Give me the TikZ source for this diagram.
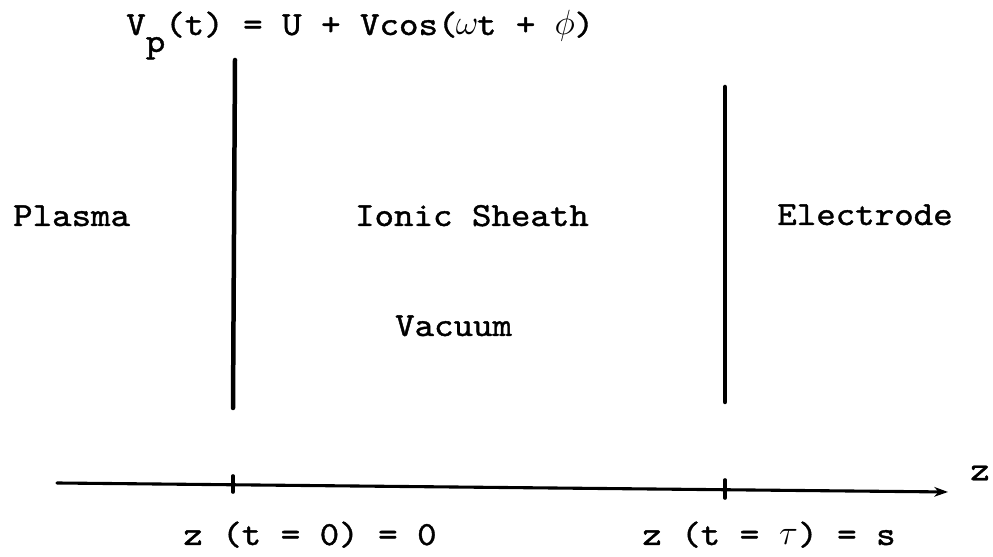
\documentclass[tikz,border=0pt]{standalone}
\usepackage{fontspec}
\newfontfamily\typew[FakeStretch=1.1,FakeBold=1.2]{lmmono10-regular.otf}
\usepackage{tikz}
\usetikzlibrary{arrows.meta,positioning,calc}
\newcommand\gk[1]{\makebox[0.5775em]{$#1$}}
\tikzset{
  lbl/.style={font=\typew\fontsize{24}{27}\selectfont,inner sep=0pt,anchor=base},
  plate/.style={line width=3.2pt,line cap=round},
  axl/.style={line width=2.2pt,line cap=round,-{Stealth[length=3.4mm,width=2.4mm,inset=1mm]}},
  tck/.style={line width=2.6pt,line cap=round},
}

\begin{document}
\begin{tikzpicture}
\useasboundingbox (0,0) rectangle (24.825,13.925);
% applied voltage
\node[lbl,anchor=base west] (volt) at (3.15,13.05)
  {V\raisebox{-12pt}{p}(t) = U + Vcos(\gk{\omega}t + \gk{\phi})};
% plates
\coordinate (ptop) at (5.875,12.425);
\coordinate (pbot) at (5.825,3.725);
\coordinate (etop) at (18.125,11.75);
\coordinate (ebot) at (18.125,3.875);
\draw[plate] (ptop) -- (pbot);
\draw[plate] (etop) -- (ebot);
% regions
\node[lbl] (plasma) at (1.79,8.275) {Plasma};
\node[lbl] (sheath) at (11.8,8.275) {Ionic Sheath};
\node[lbl] (electrode) at (21.625,8.3) {Electrode};
\node[lbl] (vacuum) at (11.34,5.525) {Vacuum};
% z axis
\coordinate (zstart) at (1.425,1.85);
\coordinate (zend) at (23.7,1.625);
\draw[axl] (zstart) -- (zend);
\node[lbl,anchor=center] (zlbl) at (24.5,2.1) {z};
\foreach \x/\a/\b in {5.825/2.025/1.625,18.125/1.925/1.475}
  \draw[tck] (\x,\a) -- (\x,\b);
\node[lbl] (zzero) at (7.75,0.3) {z (t = 0) = 0};
\node[lbl] (zs) at (19.225,0.3) {z (t = \gk{\tau}) = s};
\end{tikzpicture}
\end{document}
